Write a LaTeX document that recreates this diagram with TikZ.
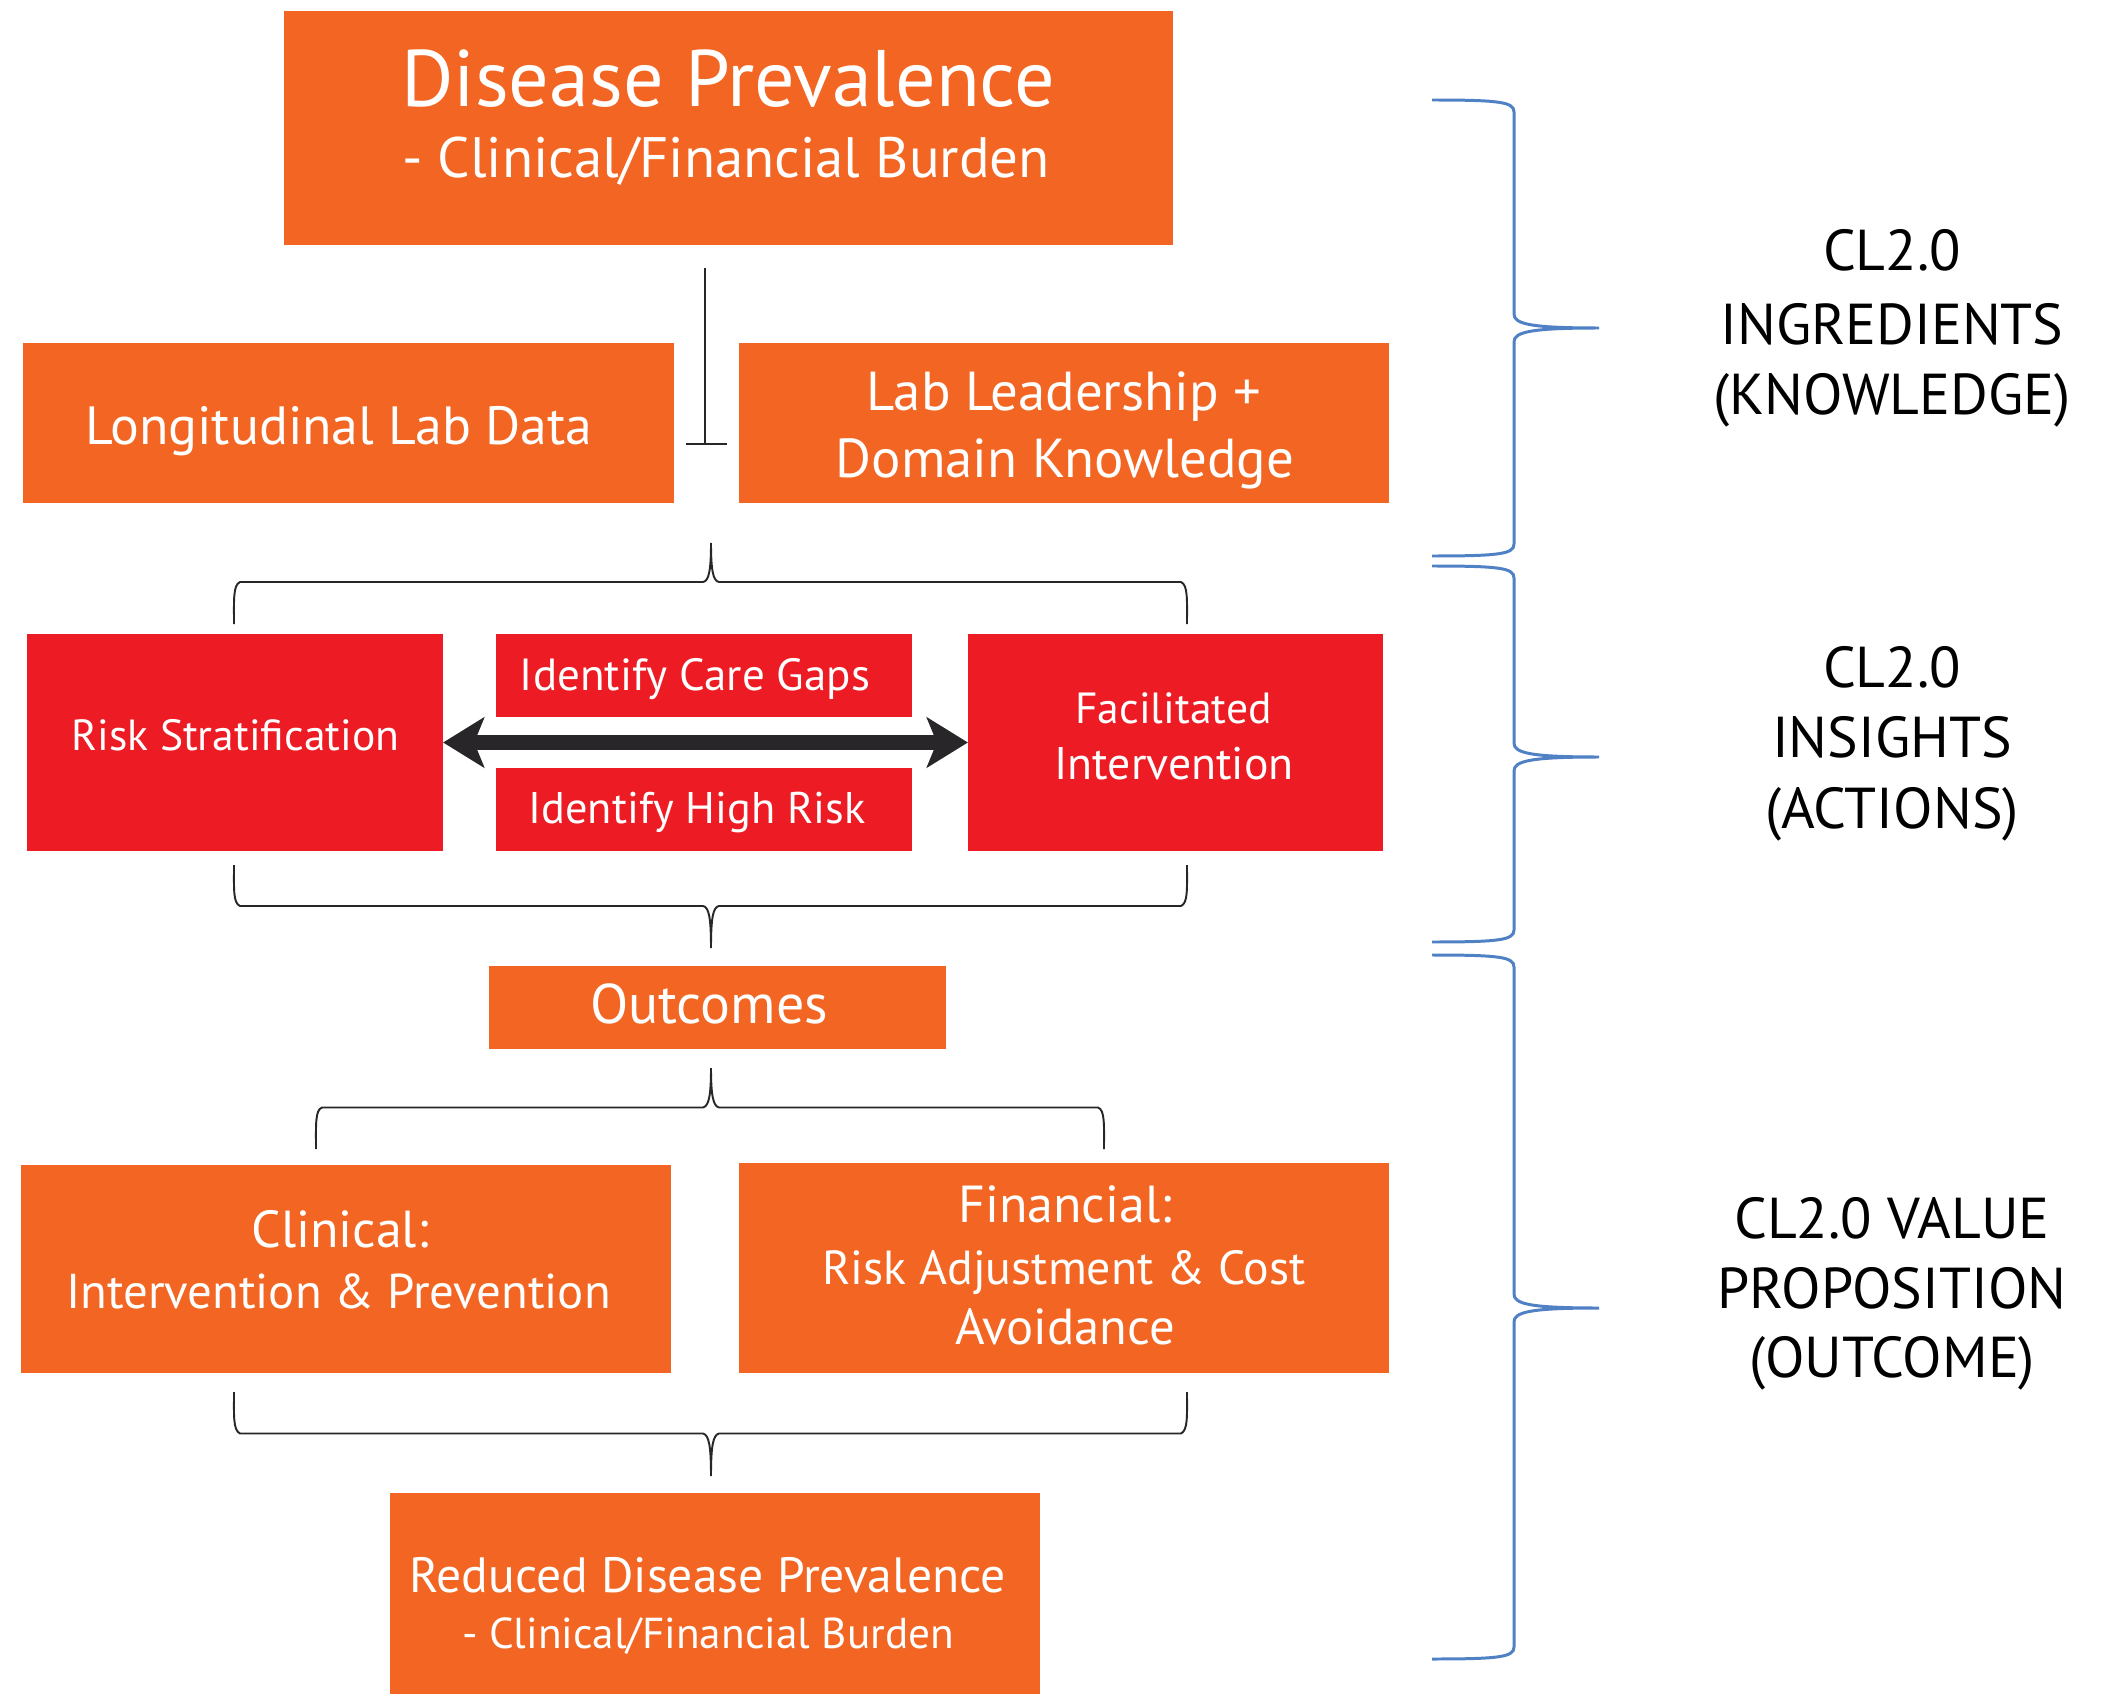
\documentclass[tikz,border=0pt]{standalone}
\usepackage{fontspec}
\setmainfont{PT Sans}
\usetikzlibrary{arrows.meta}
\definecolor{orng}{RGB}{242,101,34}
\definecolor{rd}{RGB}{237,28,36}
\definecolor{bbl}{RGB}{79,129,196}
\definecolor{dk}{RGB}{40,38,40}
\begin{document}
\begin{tikzpicture}[x=0.01cm,y=-0.01cm,
  obox/.style={fill=orng,draw=none,inner sep=0,outer sep=0},
  rbox/.style={fill=rd,draw=none,inner sep=0,outer sep=0},
  lbl/.style={text=white,inner sep=0,anchor=base},
  side/.style={text=black,inner sep=0,anchor=base,font=\fontsize{16.4pt}{19pt}\selectfont},
  brk/.style={draw=dk,line width=0.55pt},
  bbrace/.style={draw=bbl,line width=0.85pt}]
\useasboundingbox (0,0) rectangle (2108,1694);
% boxes
\node[obox,minimum width=8.89cm,minimum height=2.34cm] (top) at (728.5,128) {};
\node[obox,minimum width=6.51cm,minimum height=1.60cm] (lld) at (348.5,423) {};
\node[obox,minimum width=6.50cm,minimum height=1.60cm] (lead) at (1064,423) {};
\node[rbox,minimum width=4.16cm,minimum height=2.17cm] (rs) at (235,742.5) {};
\node[rbox,minimum width=4.16cm,minimum height=0.83cm] (gaps) at (704,675.5) {};
\node[rbox,minimum width=4.16cm,minimum height=0.83cm] (high) at (704,809.5) {};
\node[rbox,minimum width=4.15cm,minimum height=2.17cm] (fi) at (1175.5,742.5) {};
\node[obox,minimum width=4.57cm,minimum height=0.83cm] (out) at (717.5,1007.5) {};
\node[obox,minimum width=6.50cm,minimum height=2.08cm] (clin) at (346,1269) {};
\node[obox,minimum width=6.50cm,minimum height=2.10cm] (fin) at (1064,1268) {};
\node[obox,minimum width=6.50cm,minimum height=2.11cm] (red) at (715,1598.5) {};
% texts
\node[lbl,font=\fontsize{22.8pt}{26pt}\selectfont] (t1a) at (728,107) {Disease Prevalence};
\node[lbl,font=\fontsize{16.2pt}{20pt}\selectfont] (t1b) at (726,178) {- Clinical/Financial Burden};
\node[lbl,font=\fontsize{15.3pt}{18pt}\selectfont] (t2) at (339,444) {Longitudinal Lab Data};
\node[lbl,font=\fontsize{15.6pt}{18pt}\selectfont] (t3a) at (1064,410) {Lab Leadership +};
\node[lbl,font=\fontsize{15.6pt}{18pt}\selectfont] (t3b) at (1065,477) {Domain Knowledge};
\node[lbl,font=\fontsize{12.4pt}{15pt}\selectfont] (t4) at (235.5,750) {Risk Stratification};
\node[lbl,font=\fontsize{12.8pt}{15pt}\selectfont] (t5) at (695,690) {Identify Care Gaps};
\node[lbl,font=\fontsize{12.6pt}{15pt}\selectfont] (t6) at (697,823.6) {Identify High Risk};
\node[lbl,font=\fontsize{12.4pt}{15pt}\selectfont] (t7a) at (1173.5,723) {Facilitated};
\node[lbl,font=\fontsize{13pt}{15pt}\selectfont] (t7b) at (1174,779) {Intervention};
\node[lbl,font=\fontsize{15.9pt}{17pt}\selectfont] (t8) at (709,1023) {Outcomes};
\node[lbl,font=\fontsize{14.8pt}{18pt}\selectfont] (t9a) at (340,1247) {Clinical:};
\node[lbl,font=\fontsize{13.9pt}{16pt}\selectfont] (t9b) at (338.5,1308) {Intervention \& Prevention};
\node[lbl,font=\fontsize{14.8pt}{18pt}\selectfont] (t10a) at (1065,1222.5) {Financial:};
\node[lbl,font=\fontsize{13.6pt}{17pt}\selectfont] (t10b) at (1064,1284) {Risk Adjustment \& Cost};
\node[lbl,font=\fontsize{14.4pt}{17pt}\selectfont] (t10c) at (1065,1344) {Avoidance};
\node[lbl,font=\fontsize{14.1pt}{16pt}\selectfont] (t11a) at (707.5,1592) {Reduced Disease Prevalence};
\node[lbl,font=\fontsize{12.3pt}{16pt}\selectfont] (t11b) at (708,1648) {- Clinical/Financial Burden};
% side labels
\node[side] (s1a) at (1892,271) {CL2.0};
\node[side] (s1b) at (1892,345) {INGREDIENTS};
\node[side] (s1c) at (1892,415) {(KNOWLEDGE)};
\node[side] (s2a) at (1892,687) {CL2.0};
\node[side] (s2b) at (1892,757) {INSIGHTS};
\node[side] (s2c) at (1892,828) {(ACTIONS)};
\node[side] (s3a) at (1892,1238) {CL2.0 VALUE};
\node[side] (s3b) at (1892,1308) {PROPOSITION};
\node[side] (s3c) at (1892,1377) {(OUTCOME)};
% arrow
\draw[dk,line width=0.14cm,{Stealth[length=0.41cm,width=0.5cm,inset=0.1cm]}-{Stealth[length=0.41cm,width=0.5cm,inset=0.1cm]}] (rs.east) -- (fi.west);
% inverted T connector
\coordinate (c1) at (705,268);
\coordinate (c2) at (705,444);
\coordinate (c3) at (686,444);
\coordinate (c4) at (727,444);
\draw[brk] (c1) -- (c2);
\draw[brk] (c3) -- (c4);
% black braces
\coordinate (b1) at (711,543);
\draw[brk] (234,624) .. controls (234,600) and (233,585) .. (240,582) -- (703,582) .. controls (709,581) and (711,570) .. (b1)
  .. controls (711,570) and (713,581) .. (719,582) -- (1181,582) .. controls (1188,585) and (1187,600) .. (1187,624);
\coordinate (b2) at (711,948);
\draw[brk] (234,865) .. controls (234,889) and (233,903) .. (240,906) -- (703,906) .. controls (709,907) and (711,918) .. (b2)
  .. controls (711,918) and (713,907) .. (719,906) -- (1181,906) .. controls (1188,903) and (1187,889) .. (1187,865);
\coordinate (b3) at (711,1068);
\draw[brk] (316,1149) .. controls (316,1125) and (315,1110) .. (322,1107.5) -- (703,1107.5) .. controls (709,1106) and (711,1095) .. (b3)
  .. controls (711,1095) and (713,1106) .. (719,1107.5) -- (1098,1107.5) .. controls (1105,1110) and (1104,1125) .. (1104,1149);
\coordinate (b4) at (711,1476);
\draw[brk] (234,1392) .. controls (234,1416) and (233,1430) .. (240,1433.5) -- (703,1433.5) .. controls (709,1435) and (711,1446) .. (b4)
  .. controls (711,1446) and (713,1435) .. (719,1433.5) -- (1181,1433.5) .. controls (1188,1430) and (1187,1416) .. (1187,1392);
% blue braces
\coordinate (p1) at (1599,328);
\draw[bbrace] (1432,100) .. controls (1500,100) and (1514,102) .. (1514,112) -- (1514,314) .. controls (1514,324) and (1530,328) .. (p1)
  .. controls (1530,328) and (1514,332) .. (1514,342) -- (1514,544) .. controls (1514,554) and (1500,556) .. (1432,556);
\coordinate (p2) at (1599,757);
\draw[bbrace] (1432,566) .. controls (1500,566) and (1514,568) .. (1514,578) -- (1514,743) .. controls (1514,753) and (1530,757) .. (p2)
  .. controls (1530,757) and (1514,761) .. (1514,771) -- (1514,930) .. controls (1514,940) and (1500,942) .. (1432,942);
\coordinate (p3) at (1599,1308);
\draw[bbrace] (1432,955) .. controls (1500,955) and (1514,957) .. (1514,967) -- (1514,1294) .. controls (1514,1304) and (1530,1308) .. (p3)
  .. controls (1530,1308) and (1514,1312) .. (1514,1322) -- (1514,1647) .. controls (1514,1657) and (1500,1659) .. (1432,1659);
\end{tikzpicture}
\end{document}
